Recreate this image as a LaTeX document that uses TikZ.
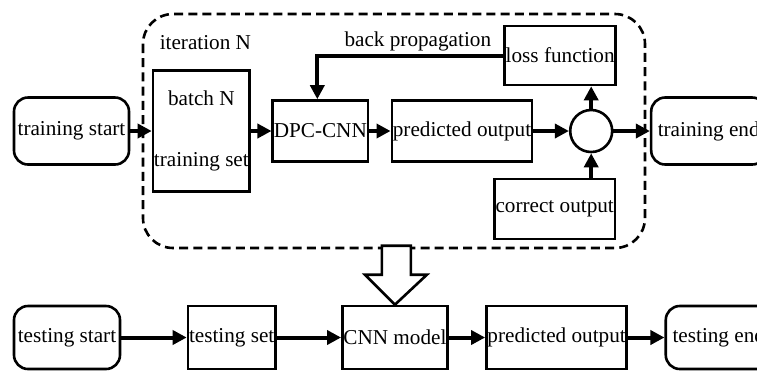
\documentclass[tikz,border=0pt]{standalone}
\usepackage{fontspec}
\setmainfont{Liberation Serif}
\usetikzlibrary{positioning, arrows.meta}

\begin{document}
\begin{tikzpicture}[
        node distance=11pt and 11pt,
        base/.style={draw, line width=1.3pt, align=center, font=\fontsize{10.6}{12.7}\selectfont, inner sep=0.5pt},
        block/.style={base, minimum height=30.5pt},
        term/.style={base, rounded corners=7pt, minimum height=33.5pt},
        sumnode/.style={base, circle, minimum size=21pt, inner sep=0pt},
        tag/.style={font=\fontsize{10.6}{12.7}\selectfont, inner sep=1pt},
        region/.style={line width=1.3pt, dash pattern=on 4.5pt off 2.6pt, rounded corners=15pt},
        hollow/.style={draw, line width=1.3pt, fill=white, line join=miter},
        arr/.style={-{Triangle[length=7pt, width=7pt]}, line width=2pt}
    ]
    \useasboundingbox (0,0) rectangle (378.5pt,-186pt);
    \clip (0,0) rectangle (378.5pt,-186pt);

    \draw[region] (71.5pt,-7pt) rectangle (322.5pt,-124pt);

    \node[term, minimum width=57.5pt] (tstart) at (35.75pt,-65.5pt) {training start};
    \node[block, minimum width=47.5pt, minimum height=60.5pt, right=10.7pt of tstart] (batch) {batch N\\[18pt]training set};
    \node[block, minimum width=47pt, right=10.2pt of batch] (dpc) {DPC-CNN};
    \node[block, minimum width=69pt, right=10.7pt of dpc] (pred) {predicted output};
    \node[sumnode, right=17.7pt of pred] (sum) {};
    \node[block, minimum width=55pt, minimum height=29.5pt, above=11.2pt of sum, xshift=-15.5pt] (loss) {loss function};
    \node[block, minimum width=59.5pt, minimum height=30pt, below=12.2pt of sum, xshift=-18.25pt] (correct) {correct output};
    \node[term, minimum width=57.5pt, right=18.2pt of sum] (tend) {training end};
    \node[tag, above=8.5pt of batch, xshift=2pt] (iterlabel) {iteration N};

    \node[term, minimum width=53pt, minimum height=31.5pt] (tsstart) at (33.5pt,-168.75pt) {testing start};
    \node[block, minimum width=42.5pt, minimum height=31.5pt, right=32.7pt of tsstart] (tset) {testing set};
    \node[block, minimum width=51.5pt, minimum height=31.5pt, right=32.2pt of tset] (model) {CNN model};
    \node[block, minimum width=69pt, minimum height=31.5pt, right=18.2pt of model] (pred2) {predicted output};
    \node[term, minimum width=53pt, minimum height=31.5pt, right=18.2pt of pred2] (tsend) {testing end};

    \draw[arr] (tstart) -- (batch);
    \draw[arr] (batch) -- (dpc);
    \draw[arr] (dpc) -- (pred);
    \draw[arr] (pred) -- (sum);
    \draw[arr] (sum) -- (tend);
    \draw[arr] (sum) -- (sum |- loss.south);
    \draw[arr] (sum |- correct.north) -- (sum);
    \draw[arr] (loss.west) -| ([xshift=-1.5pt]dpc.north)
        node[tag, above, pos=0.23] (bplabel) {back propagation};

    \draw[hollow] (model.north) -- ++(-15pt,15pt) -- ++(8.5pt,0) -- ++(0,14.5pt)
        -- ++(14.5pt,0) -- ++(0,-14.5pt) -- ++(8pt,0) -- cycle;

    \draw[arr] (tsstart) -- (tset);
    \draw[arr] (tset) -- (model);
    \draw[arr] (model) -- (pred2);
    \draw[arr] (pred2) -- (tsend);
\end{tikzpicture}
\end{document}
